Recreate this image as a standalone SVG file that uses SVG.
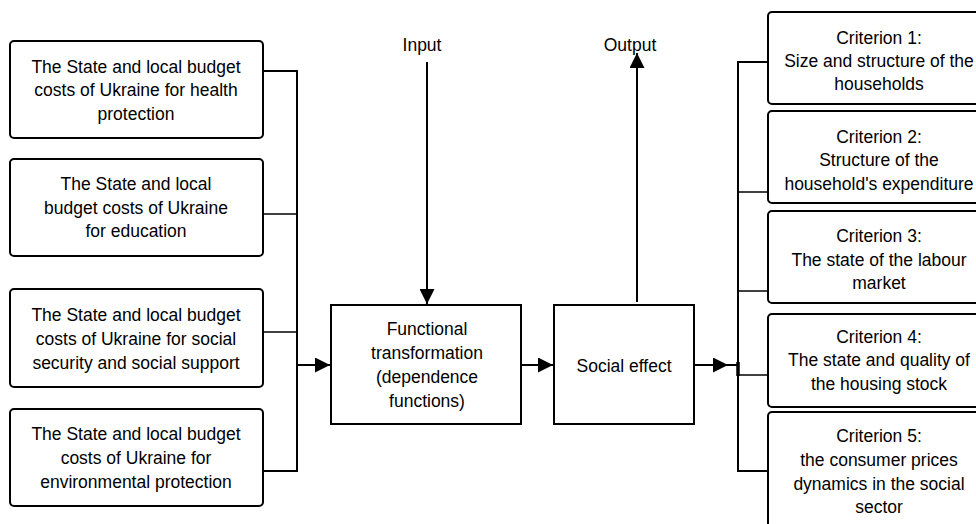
<svg xmlns="http://www.w3.org/2000/svg" width="976" height="524" viewBox="0 0 976 524">
<defs>
<marker id="ah" viewBox="0 0 10 10" refX="10" refY="5" markerWidth="7.5" markerHeight="7.5" markerUnits="strokeWidth" orient="auto">
<path d="M0,0 L10,5 L0,10 z" fill="#000"/>
</marker>
<style>
.box{fill:#fff;stroke:#000;stroke-width:2}
.t{font-family:"Liberation Sans",Arial,sans-serif;font-size:17.5px;fill:#000;text-anchor:middle}
.c{fill:none;stroke:#000;stroke-width:2}
.cl{fill:none;stroke:#000;stroke-width:1.5}
</style>
</defs>
<rect width="976" height="524" fill="#fff"/>
<g id="connectors">
<polyline class="c" points="263,71 297,71 297,471 263,471"/>
<line class="cl" x1="263" y1="214" x2="297" y2="214"/>
<line class="cl" x1="263" y1="332" x2="297" y2="332"/>
<line class="c" x1="297" y1="365" x2="330" y2="365" marker-end="url(#ah)"/>
<line class="c" x1="427" y1="62" x2="427" y2="304" marker-end="url(#ah)"/>
<line class="c" x1="521" y1="365" x2="553" y2="365" marker-end="url(#ah)"/>
<line class="c" x1="637" y1="302" x2="637" y2="53" marker-end="url(#ah)"/>
<line class="c" x1="694" y1="365" x2="728" y2="365" marker-end="url(#ah)"/>
<line class="c" x1="720" y1="365" x2="739" y2="365"/>
<polyline class="c" points="768,62 738,62 738,471 768,471"/>
<line x1="738" y1="362" x2="738" y2="376" stroke="#000" stroke-width="3.5"/>
<line class="cl" x1="738" y1="192" x2="768" y2="192"/>
<line class="cl" x1="738" y1="291" x2="768" y2="291"/>
<line class="cl" x1="738" y1="375" x2="768" y2="375"/>
</g>
<g id="n1"><rect class="box" x="10" y="41" width="253" height="97" rx="4"/>
<text class="t"><tspan x="136" y="73">The State and local budget</tspan><tspan x="136" y="96">costs of Ukraine for health</tspan><tspan x="136" y="120">protection</tspan></text></g>
<g id="n2"><rect class="box" x="10" y="159" width="253" height="97" rx="4"/>
<text class="t"><tspan x="136" y="190">The State and local</tspan><tspan x="136" y="214">budget costs of Ukraine</tspan><tspan x="136" y="237">for education</tspan></text></g>
<g id="n3"><rect class="box" x="10" y="289" width="253" height="98" rx="4"/>
<text class="t"><tspan x="136" y="321">The State and local budget</tspan><tspan x="136" y="345">costs of Ukraine for social</tspan><tspan x="136" y="369">security and social support</tspan></text></g>
<g id="n4"><rect class="box" x="10" y="409" width="253" height="97" rx="4"/>
<text class="t"><tspan x="136" y="440">The State and local budget</tspan><tspan x="136" y="464">costs of Ukraine for</tspan><tspan x="136" y="488">environmental protection</tspan></text></g>
<g id="input"><text class="t" x="422" y="51">Input</text></g>
<g id="output"><text class="t" x="630" y="51">Output</text></g>
<g id="func"><rect class="box" x="331" y="305" width="190" height="119"/>
<text class="t"><tspan x="427" y="335">Functional</tspan><tspan x="427" y="359">transformation</tspan><tspan x="427" y="383">(dependence</tspan><tspan x="427" y="407">functions)</tspan></text></g>
<g id="social"><rect class="box" x="554" y="305" width="140" height="119"/>
<text class="t" x="624" y="372">Social effect</text></g>
<g id="c1"><rect class="box" x="768" y="12" width="222" height="92" rx="4"/>
<text class="t"><tspan x="879" y="44">Criterion 1:</tspan><tspan x="879" y="67">Size and structure of the</tspan><tspan x="879" y="90">households</tspan></text></g>
<g id="c2"><rect class="box" x="768" y="111" width="222" height="92" rx="4"/>
<text class="t"><tspan x="879" y="143">Criterion 2:</tspan><tspan x="879" y="166">Structure of the</tspan><tspan x="879" y="190">household's expenditure</tspan></text></g>
<g id="c3"><rect class="box" x="768" y="211" width="222" height="92" rx="4"/>
<text class="t"><tspan x="879" y="242">Criterion 3:</tspan><tspan x="879" y="266">The state of the labour</tspan><tspan x="879" y="289">market</tspan></text></g>
<g id="c4"><rect class="box" x="768" y="314" width="222" height="93" rx="4"/>
<text class="t"><tspan x="879" y="343">Criterion 4:</tspan><tspan x="879" y="366">The state and quality of</tspan><tspan x="879" y="390">the housing stock</tspan></text></g>
<g id="c5"><rect class="box" x="768" y="412" width="222" height="130" rx="4"/>
<text class="t"><tspan x="879" y="442">Criterion 5:</tspan><tspan x="879" y="466">the consumer prices</tspan><tspan x="879" y="490">dynamics in the social</tspan><tspan x="879" y="513">sector</tspan></text></g>
</svg>
